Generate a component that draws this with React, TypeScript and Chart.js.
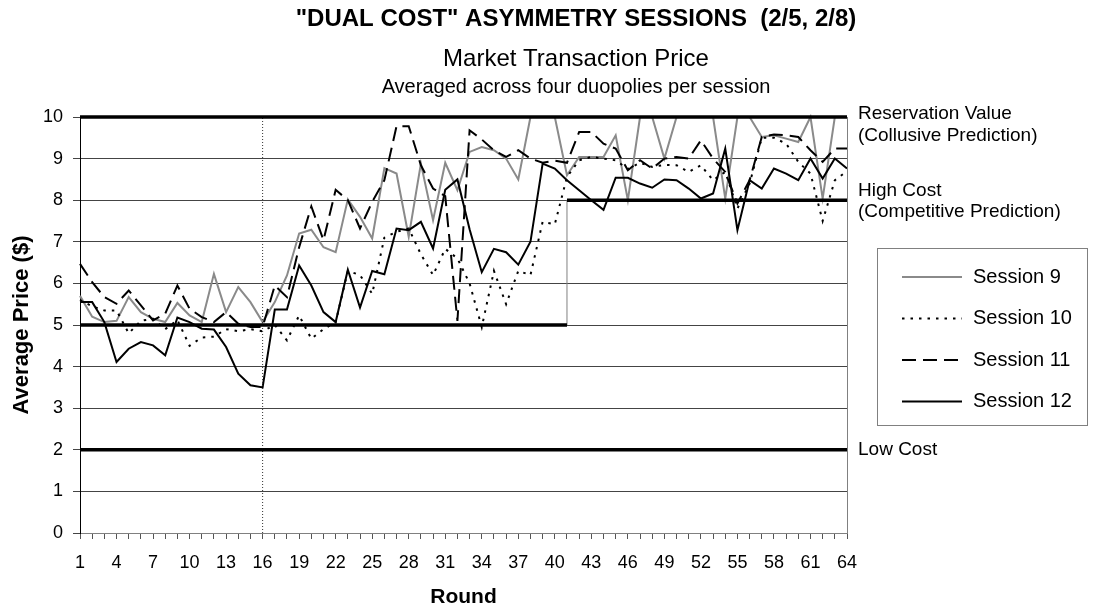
import React, { useEffect, useRef } from 'react';
import { Chart, registerables } from 'chart.js';

Chart.register(...registerables);

const FONT = "'Liberation Sans', Arial, Helvetica, sans-serif";

const TITLE = '"DUAL COST" ASYMMETRY SESSIONS  (2/5, 2/8)';
const SUBTITLE = 'Market Transaction Price';
const SUBTITLE2 = 'Averaged across four duopolies per session';
const X_TITLE = 'Round';
const Y_TITLE = 'Average Price ($)';

const ROUNDS = [
  '1', '2', '3', '4', '5', '6', '7', '8', '9', '10', '11', '12', '13', '14', '15', '16',
  '17', '18', '19', '20', '21', '22', '23', '24', '25', '26', '27', '28', '29', '30', '31', '32',
  '33', '34', '35', '36', '37', '38', '39', '40', '41', '42', '43', '44', '45', '46', '47', '48',
  '49', '50', '51', '52', '53', '54', '55', '56', '57', '58', '59', '60', '61', '62', '63', '64',
];
const X_TICK_LABELS = ['1', '4', '7', '10', '13', '16', '19', '22', '25', '28', '31', '34', '37', '40', '43', '46', '49', '52', '55', '58', '61', '64'];

const SESSION_9 = [
  5.7, 5.2, 5.07, 5.1, 5.67, 5.31, 5.15, 5.07, 5.53, 5.23, 5.07, 6.23, 5.31, 5.91, 5.55, 5.07,
  5.55, 6.19, 7.2, 7.29, 6.87, 6.75, 8.02, 7.6, 7.08, 8.77, 8.64, 7.12, 8.88, 7.52, 8.9, 8.24,
  9.16, 9.28, 9.2, 9.0, 8.5, 10, 10, 10, 8.6, 9.04, 9.04, 9.04, 9.56, 8.0, 10, 10,
  9.0, 10, 10, 10, 10, 8.04, 10, 10, 9.52, 9.56, 9.48, 9.4, 10, 8.04, 10, 10,
];
const SESSION_10 = [
  5.6, 5.45, 5.35, 5.35, 4.8, 5.1, 5.15, 4.9, 5.12, 4.5, 4.7, 4.72, 4.9, 4.85, 4.9, 4.85,
  5.0, 4.63, 5.23, 4.67, 4.9, 5.07, 6.3, 6.2, 5.75, 7.1, 7.24, 7.32, 6.7, 6.2, 6.83, 6.6,
  6.0, 4.95, 6.3, 5.5, 6.3, 6.2, 7.48, 7.42, 8.56, 8.96, 9.04, 9.0, 8.96, 8.75, 8.9, 8.8,
  8.85, 8.84, 8.68, 8.84, 8.48, 8.68, 7.8, 8.4, 9.5, 9.5, 9.36, 8.92, 8.64, 7.5, 8.48, 8.7,
];
const SESSION_11 = [
  6.47, 6.03, 5.67, 5.51, 5.83, 5.47, 5.11, 5.27, 5.95, 5.39, 5.19, 5.07, 5.31, 5.03, 4.95, 4.95,
  5.95, 5.67, 6.87, 7.85, 7.04, 8.25, 8.0, 7.32, 7.96, 8.48, 9.78, 9.78, 8.84, 8.28, 8.1, 5.1,
  9.68, 9.46, 9.2, 9.04, 9.2, 9.0, 8.9, 8.95, 8.9, 9.64, 9.64, 9.36, 9.24, 8.72, 8.96, 8.76,
  9.0, 9.04, 9.0, 9.44, 9.0, 8.68, 7.92, 8.48, 9.52, 9.58, 9.56, 9.52, 9.2, 8.92, 9.24, 9.24,
];
const SESSION_12 = [
  5.55, 5.55, 5.07, 4.11, 4.43, 4.59, 4.51, 4.27, 5.18, 5.07, 4.91, 4.89, 4.47, 3.83, 3.55, 3.5,
  5.37, 5.37, 6.43, 5.95, 5.31, 5.07, 6.33, 5.42, 6.3, 6.22, 7.32, 7.28, 7.48, 6.84, 8.25, 8.5,
  7.3, 6.27, 6.83, 6.75, 6.45, 7.0, 8.88, 8.76, 8.48, 8.24, 8.0, 7.77, 8.54, 8.54, 8.4, 8.3,
  8.5, 8.48, 8.28, 8.04, 8.16, 9.24, 7.28, 8.48, 8.28, 8.76, 8.64, 8.48, 9.0, 8.52, 9.0, 8.76,
];

const RESERVATION_VALUE = 10;
const HIGH_COST_EARLY = 5;
const HIGH_COST_LATE = 8;
const LOW_COST = 2;
const SWITCH_ROUND = '41';
const TREATMENT_ROUND = '16';

const SESSION_NAMES = ['Session 9', 'Session 10', 'Session 11', 'Session 12'];

const overlayPlugin = {
  id: 'overlay',
  afterDraw(chart: any) {
    const { ctx, chartArea, scales } = chart;
    const y = scales.y;
    ctx.save();
    // right border of plot
    ctx.strokeStyle = '#808080';
    ctx.lineWidth = 1;
    ctx.beginPath();
    ctx.moveTo(chartArea.right + 0.5, chartArea.top);
    ctx.lineTo(chartArea.right + 0.5, chartArea.bottom);
    ctx.stroke();

    // titles
    ctx.fillStyle = '#000';
    ctx.textAlign = 'center';
    ctx.textBaseline = 'middle';
    ctx.font = `bold 24px ${FONT}`;
    ctx.fillText(TITLE, 576, 19);
    ctx.font = `24px ${FONT}`;
    ctx.fillText(SUBTITLE, 576, 59);
    ctx.font = `20px ${FONT}`;
    ctx.fillText(SUBTITLE2, 576, 87);

    // right annotations
    ctx.textAlign = 'left';
    ctx.font = `19px ${FONT}`;
    const nx = chartArea.right + 11;
    ctx.fillText('Reservation Value', nx, y.getPixelForValue(RESERVATION_VALUE) - 3);
    ctx.fillText('(Collusive Prediction)', nx, y.getPixelForValue(RESERVATION_VALUE) + 19);
    ctx.fillText('High Cost', nx, y.getPixelForValue(HIGH_COST_LATE) - 9);
    ctx.fillText('(Competitive Prediction)', nx, y.getPixelForValue(HIGH_COST_LATE) + 12);
    ctx.fillText('Low Cost', nx, y.getPixelForValue(LOW_COST));

    // legend
    const bx = 877.5, by = 248.5, bw = 210, bh = 177;
    ctx.fillStyle = '#fff';
    ctx.fillRect(bx, by, bw, bh);
    ctx.strokeStyle = '#808080';
    ctx.lineWidth = 1;
    ctx.setLineDash([]);
    ctx.strokeRect(bx, by, bw, bh);
    const sessionSets = chart.data.datasets.filter((d: any) => SESSION_NAMES.includes(d.label));
    sessionSets.forEach((d: any, i: number) => {
      const ry = 277 + i * 41.5;
      ctx.save();
      ctx.strokeStyle = d.borderColor;
      ctx.lineWidth = d.borderWidth;
      ctx.setLineDash(d.borderDash || []);
      ctx.beginPath();
      ctx.moveTo(902, ry);
      ctx.lineTo(962, ry);
      ctx.stroke();
      ctx.restore();
      ctx.fillStyle = '#000';
      ctx.font = `20px ${FONT}`;
      ctx.textAlign = 'left';
      ctx.textBaseline = 'middle';
      ctx.fillText(d.label, 973, ry);
    });
    ctx.restore();
  },
};

export default function App() {
  const canvasRef = useRef<HTMLCanvasElement | null>(null);

  useEffect(() => {
    const canvas = canvasRef.current;
    if (!canvas) return;
    const switchIdx = ROUNDS.indexOf(SWITCH_ROUND);
    const highEarly = ROUNDS.map((r, i) => (i <= switchIdx ? HIGH_COST_EARLY : null));
    const highLate = ROUNDS.map((r, i) => (i >= switchIdx ? HIGH_COST_LATE : null));
    const chart = new Chart(canvas, {
      type: 'line',
      data: {
        labels: ROUNDS,
        datasets: [
          {
            label: 'Reservation Value',
            data: ROUNDS.map(() => RESERVATION_VALUE),
            borderColor: '#000', borderWidth: 3.5, pointRadius: 0, order: 0, clip: false,
          },
          {
            label: 'High Cost (early)',
            data: highEarly,
            borderColor: '#000', borderWidth: 3.5, pointRadius: 0, order: 0, spanGaps: false, clip: false,
          },
          {
            label: 'High Cost (late)',
            data: highLate,
            borderColor: '#000', borderWidth: 3.5, pointRadius: 0, order: 0, spanGaps: false, clip: false,
          },
          {
            label: 'Low Cost',
            data: ROUNDS.map(() => LOW_COST),
            borderColor: '#000', borderWidth: 3.5, pointRadius: 0, order: 0, clip: false,
          },
          {
            label: 'Switch',
            data: [{ x: SWITCH_ROUND, y: HIGH_COST_EARLY }, { x: SWITCH_ROUND, y: HIGH_COST_LATE }],
            borderColor: '#808080', borderWidth: 1, pointRadius: 0, order: 0,
          },
          {
            label: 'Treatment',
            data: [{ x: TREATMENT_ROUND, y: 0 }, { x: TREATMENT_ROUND, y: RESERVATION_VALUE }],
            borderColor: '#333', borderWidth: 1, borderDash: [1, 2], pointRadius: 0, order: 0,
          },
          {
            label: 'Session 9', data: SESSION_9,
            borderColor: '#8a8a8a', borderWidth: 2, pointRadius: 0, order: 4, clip: 3,
          },
          {
            label: 'Session 10', data: SESSION_10,
            borderColor: '#000', borderWidth: 2, borderDash: [2.5, 6], pointRadius: 0, order: 3,
          },
          {
            label: 'Session 11', data: SESSION_11,
            borderColor: '#000', borderWidth: 2, borderDash: [14, 7], pointRadius: 0, order: 2,
          },
          {
            label: 'Session 12', data: SESSION_12,
            borderColor: '#000', borderWidth: 2, pointRadius: 0, order: 1,
          },
        ],
      },
      options: {
        animation: false,
        responsive: false,
        maintainAspectRatio: false,
        layout: { padding: { left: 0, right: 247, top: 117, bottom: 0 } },
        elements: { line: { tension: 0 } },
        plugins: {
          legend: { display: false },
          tooltip: { enabled: false },
          title: { display: false },
        },
        scales: {
          x: {
            type: 'category',
            offset: false,
            afterFit: (scale: any) => { scale.height = 82; },
            grid: { drawOnChartArea: false, drawTicks: true, tickLength: 6, color: '#555' },
            border: { display: true, color: '#808080', width: 1 },
            ticks: {
              autoSkip: false,
              maxRotation: 0,
              minRotation: 0,
              padding: 13,
              color: '#000',
              font: { family: FONT, size: 18 },
              callback: (value: any, index: number) => (X_TICK_LABELS.includes(ROUNDS[index]) ? ROUNDS[index] : ''),
            },
            title: {
              display: true, text: X_TITLE, color: '#000',
              font: { family: FONT, size: 21, weight: 'bold' },
              padding: { top: 0, bottom: 5 },
            },
          },
          y: {
            min: 0, max: 10,
            afterFit: (scale: any) => { scale.width = 80; },
            grid: { color: '#444', lineWidth: 1, tickLength: 7 },
            border: { display: true, color: '#000', width: 1 },
            ticks: {
              stepSize: 1, padding: 10, color: '#000',
              font: { family: FONT, size: 18 },
            },
            title: {
              display: true, text: Y_TITLE, color: '#000',
              font: { family: FONT, size: 22, weight: 'bold' },
              padding: { top: 9, bottom: 0 },
            },
          },
        },
      },
      plugins: [overlayPlugin],
    } as any);
    return () => chart.destroy();
  }, []);

  return (
    <div style={{ position: 'absolute', left: 0, top: 0, width: 1094, height: 615, background: '#fff' }}>
      <canvas ref={canvasRef} width={1094} height={615} style={{ width: 1094, height: 615, display: 'block' }} />
    </div>
  );
}
